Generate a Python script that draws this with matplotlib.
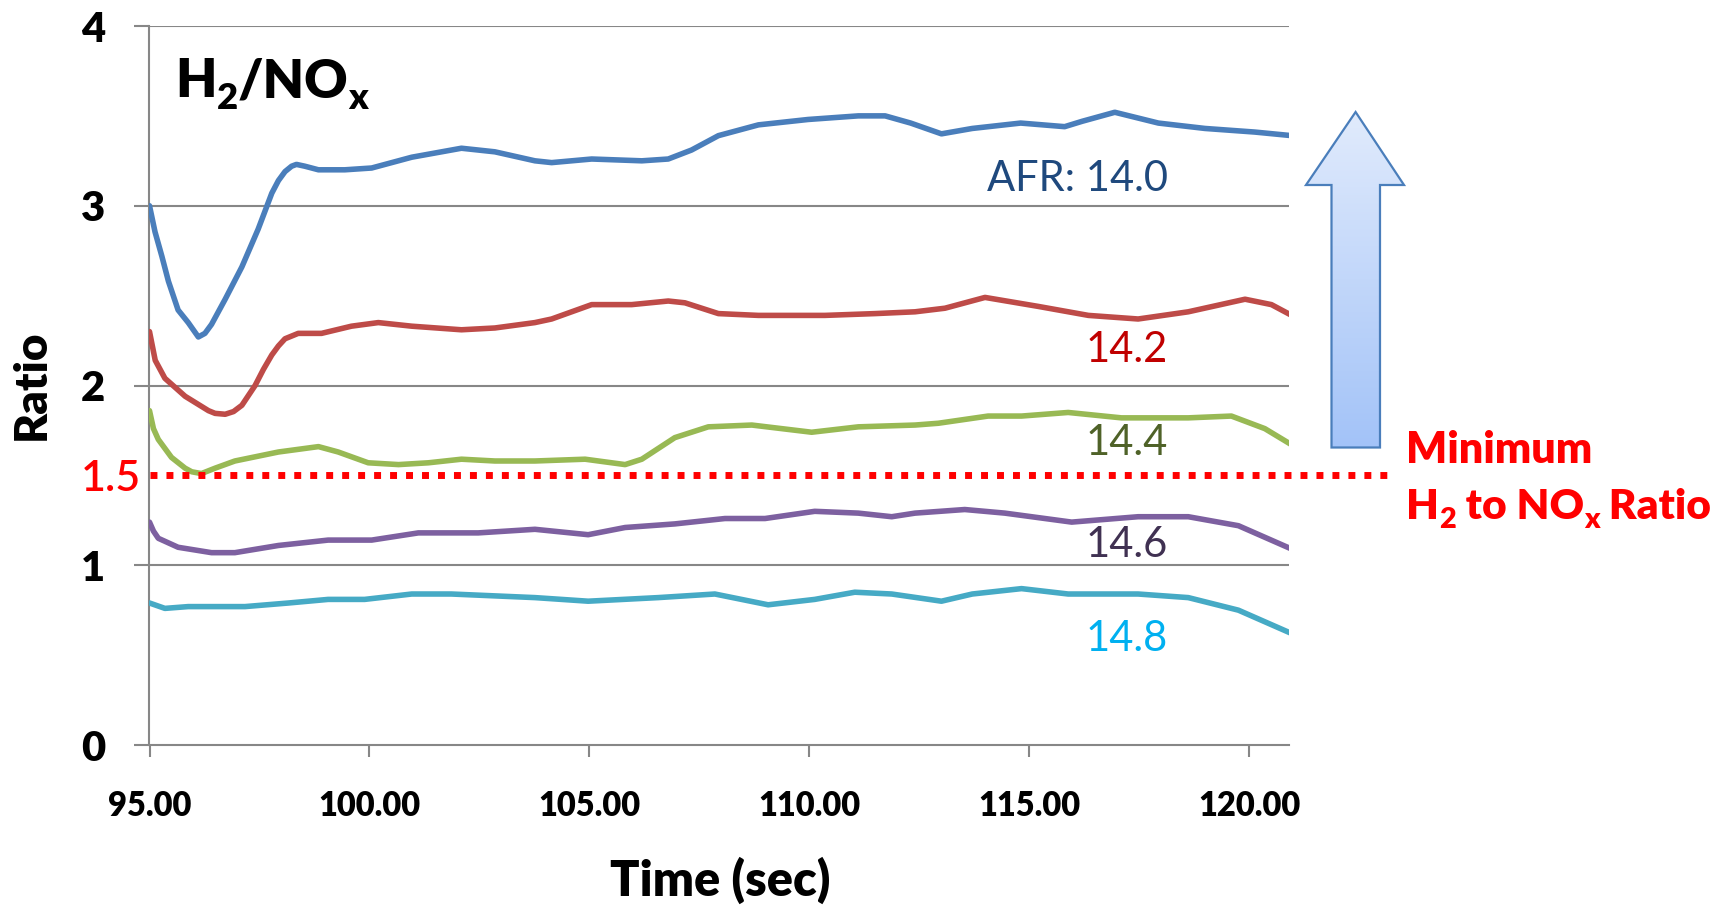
import matplotlib
matplotlib.use("Agg")
import numpy as np
import matplotlib.pyplot as plt
from matplotlib.patches import Polygon
from matplotlib.colors import LinearSegmentedColormap

plt.rcParams["font.family"] = ["Lato", "DejaVu Sans"]

# ---------------- data ----------------
x_ticks = [95, 100, 105, 110, 115, 120]
y_ticks = [0, 1, 2, 3, 4]
y_tick_labels = ["0", "1", "2", "3", "4"]
min_ratio = 1.5

t_140 = [95.0, 95.125, 95.28, 95.43, 95.65, 95.88, 96.11, 96.26, 96.41, 96.72, 97.10,
         97.47, 97.78, 97.93, 98.08, 98.23, 98.34, 98.53, 98.84,
         99.44, 100.05, 100.96, 102.09, 102.85, 103.76, 104.14, 105.05, 106.19, 106.79,
         107.32, 107.93, 108.84, 109.97, 111.11, 111.72, 112.30, 113.0, 113.7, 114.8,
         115.8, 116.2, 116.94, 117.93, 118.99, 120.12, 120.96]
r_140 = [3.00, 2.855, 2.72, 2.58, 2.42, 2.35, 2.27, 2.29, 2.34, 2.48, 2.66,
         2.87, 3.07, 3.14, 3.19, 3.22, 3.23, 3.22, 3.20,
         3.20, 3.21, 3.27, 3.32, 3.30, 3.25, 3.24, 3.26, 3.25, 3.26,
         3.31, 3.39, 3.45, 3.48, 3.50, 3.50, 3.46, 3.40, 3.43, 3.46,
         3.44, 3.47, 3.52, 3.46, 3.43, 3.41, 3.39]

t_142 = [95.0, 95.13, 95.35, 95.81, 96.34, 96.49, 96.72, 96.91, 97.1, 97.4, 97.59,
         97.78, 97.93, 98.08, 98.38,
         98.91, 99.59, 100.2, 100.96, 102.09, 102.85, 103.76, 104.14, 105.05, 105.96,
         106.79, 107.17, 107.93, 108.84, 110.35, 111.49, 112.4, 113.08, 113.99, 115.2,
         116.34, 117.47, 118.61, 119.9, 120.5, 120.96]
r_142 = [2.30, 2.14, 2.04, 1.94, 1.86, 1.845, 1.84, 1.855, 1.89, 2.00, 2.09,
         2.17, 2.22, 2.26, 2.29,
         2.29, 2.33, 2.35, 2.33, 2.31, 2.32, 2.35, 2.37, 2.45, 2.45,
         2.47, 2.46, 2.40, 2.39, 2.39, 2.40, 2.41, 2.43, 2.49, 2.44,
         2.39, 2.37, 2.41, 2.48, 2.45, 2.39]

t_144 = [95.0, 95.09, 95.2, 95.5, 95.81, 95.96, 96.18, 96.49, 96.94, 97.93, 98.84, 99.29,
         99.97, 100.66, 101.34, 102.09, 102.85, 103.76, 104.9, 105.81, 106.19, 106.94,
         107.7, 108.69, 110.05, 111.11, 112.4, 112.93, 114.06, 114.82, 115.88, 117.09,
         118.61, 119.59, 120.35, 120.96]
r_144 = [1.86, 1.76, 1.70, 1.60, 1.54, 1.52, 1.51, 1.54, 1.58, 1.63, 1.66, 1.63,
         1.57, 1.56, 1.57, 1.59, 1.58, 1.58, 1.59, 1.56, 1.59, 1.71,
         1.77, 1.78, 1.74, 1.77, 1.78, 1.79, 1.83, 1.83, 1.85, 1.82,
         1.82, 1.83, 1.76, 1.67]

t_146 = [95.0, 95.09, 95.2, 95.65, 96.41, 96.94, 97.93, 99.06, 100.05, 101.11, 102.47,
         103.76, 104.97, 105.81, 106.94, 108.08, 108.99, 110.12, 111.11, 111.87, 112.4,
         113.53, 114.44, 115.96, 117.47, 118.61, 119.75, 120.96]
r_146 = [1.24, 1.19, 1.15, 1.10, 1.07, 1.07, 1.11, 1.14, 1.14, 1.18, 1.18,
         1.20, 1.17, 1.21, 1.23, 1.26, 1.26, 1.30, 1.29, 1.27, 1.29,
         1.31, 1.29, 1.24, 1.27, 1.27, 1.22, 1.09]

t_148 = [95.0, 95.35, 95.88, 97.17, 98.16, 99.06, 99.89, 100.96, 101.86, 103.76, 104.97,
         106.56, 107.85, 109.06, 110.12, 111.03, 111.87, 113.0, 113.7, 114.82, 115.88,
         117.47, 118.61, 119.75, 120.96]
r_148 = [0.79, 0.76, 0.77, 0.77, 0.79, 0.81, 0.81, 0.84, 0.84, 0.82, 0.80,
         0.82, 0.84, 0.78, 0.81, 0.85, 0.84, 0.80, 0.84, 0.87, 0.84,
         0.84, 0.82, 0.75, 0.62]

series_labels = ["AFR: 14.0", "14.2", "14.4", "14.6", "14.8"]
label_y = [3.083, 2.131, 1.614, 1.048, 0.523]

# ---------------- styling ----------------
line_colors = ["#4A7EBB", "#BE4B48", "#98B954", "#7D60A0", "#46AAC5"]
text_colors = ["#1F497D", "#C00000", "#4F6228", "#403152", "#00B0F0"]
GRID = "#878787"
RED = "#FF0000"
HEAVY = "heavy"

W, H, DPI = 1724, 905, 100
fig = plt.figure(figsize=(W / DPI, H / DPI), dpi=DPI)
ax_l, ax_r, ax_t, ax_b = 149.5, 1288.6, 26, 745
ax = fig.add_axes([ax_l / W, (H - ax_b) / H, (ax_r - ax_l) / W, (ax_b - ax_t) / H])

ax.set_xlim(95, 120.89)
ax.set_ylim(0, 4)
ax.set_xticks(x_ticks)
ax.set_xticklabels([f"{v:.2f}" for v in x_ticks])
ax.set_yticks(y_ticks)
ax.set_yticklabels(y_tick_labels)

for s in ("top", "right"):
    ax.spines[s].set_visible(False)
for s in ("left", "bottom"):
    ax.spines[s].set_color(GRID)
    ax.spines[s].set_linewidth(1.5)
for yv in y_ticks[1:]:
    ax.axhline(yv, color=GRID, lw=1.5, zorder=1)

ax.tick_params(axis="y", length=10.8, width=1.5, color=GRID, pad=21, labelsize=30)
ax.tick_params(axis="x", length=8.6, width=1.5, color=GRID, pad=24, labelsize=23.5)
for lab in ax.get_xticklabels() + ax.get_yticklabels():
    lab.set_fontweight(HEAVY)

all_t = [t_140, t_142, t_144, t_146, t_148]
all_r = [r_140, r_142, r_144, r_146, r_148]
for tt, rr, c in zip(all_t, all_r, line_colors):
    ax.plot(tt, rr, color=c, lw=4.0, solid_joinstyle="round", solid_capstyle="round", zorder=3)

for lab, yv, c in zip(series_labels, label_y, text_colors):
    ax.text(118.15, yv, lab, ha="right", va="baseline", color=c, fontsize=30, zorder=4)

# minimum ratio threshold
ax.plot([95, 123.19], [min_ratio, min_ratio], color=RED, lw=5, dashes=(1, 1.3),
        dash_capstyle="butt", clip_on=False, zorder=4)
ax.text(-0.0075, min_ratio, f"{min_ratio}", transform=ax.get_yaxis_transform(),
        ha="right", va="center_baseline", color=RED, fontsize=31, fontweight="semibold")

# axis titles
fig.text(31 / W, 1 - 385 / H, "Ratio", rotation=90, ha="center", va="center",
         fontsize=33, fontweight=HEAVY)
fig.text(720 / W, 1 - 880 / H, "Time (sec)", ha="center", va="center",
         fontsize=35, fontweight=HEAVY)

# pixel-space overlay for the arrow and annotations
ov = fig.add_axes([0, 0, 1, 1])
ov.set_xlim(0, W)
ov.set_ylim(H, 0)
ov.axis("off")

arrow_pts = [(1355.6, 112), (1404, 185), (1380, 185), (1380, 447.5),
             (1331.5, 447.5), (1331.5, 185), (1306, 185)]
cmap = LinearSegmentedColormap.from_list("arrowfill", ["#E1EBFC", "#A3C3F8"])
grad = np.linspace(0, 1, 256).reshape(-1, 1)
im = ov.imshow(grad, extent=(1306, 1404, 447.5, 112), origin="upper", cmap=cmap,
               aspect="auto", zorder=2)
poly = Polygon(arrow_pts, closed=True, facecolor="none", edgecolor="#4A7EBB",
               lw=1.6, joinstyle="miter", zorder=3)
ov.add_patch(poly)
im.set_clip_path(poly)
ov.set_xlim(0, W)
ov.set_ylim(H, 0)

renderer = fig.canvas.get_renderer()


def draw_pieces(x, y, pieces, size, color, weight, sub_scale=0.68, sub_drop=0.3):
    for s, sub in pieces:
        fs = size * sub_scale if sub else size
        dy = size * sub_drop if sub else 0
        t = ov.text(x, y + dy, s, fontsize=fs, color=color, fontweight=weight,
                    ha="left", va="baseline")
        bb = t.get_window_extent(renderer)
        x += bb.width


draw_pieces(175, 97, [("H", False), ("2", True), ("/NO", False), ("x", True)],
            38.5, "black", HEAVY)
draw_pieces(1406, 463, [("Minimum", False)], 31, RED, HEAVY)
draw_pieces(1406, 519, [("H", False), ("2", True), (" to NO", False), ("x", True),
                        (" Ratio", False)], 30.5, RED, HEAVY)

fig.savefig("out.png", dpi=DPI)
